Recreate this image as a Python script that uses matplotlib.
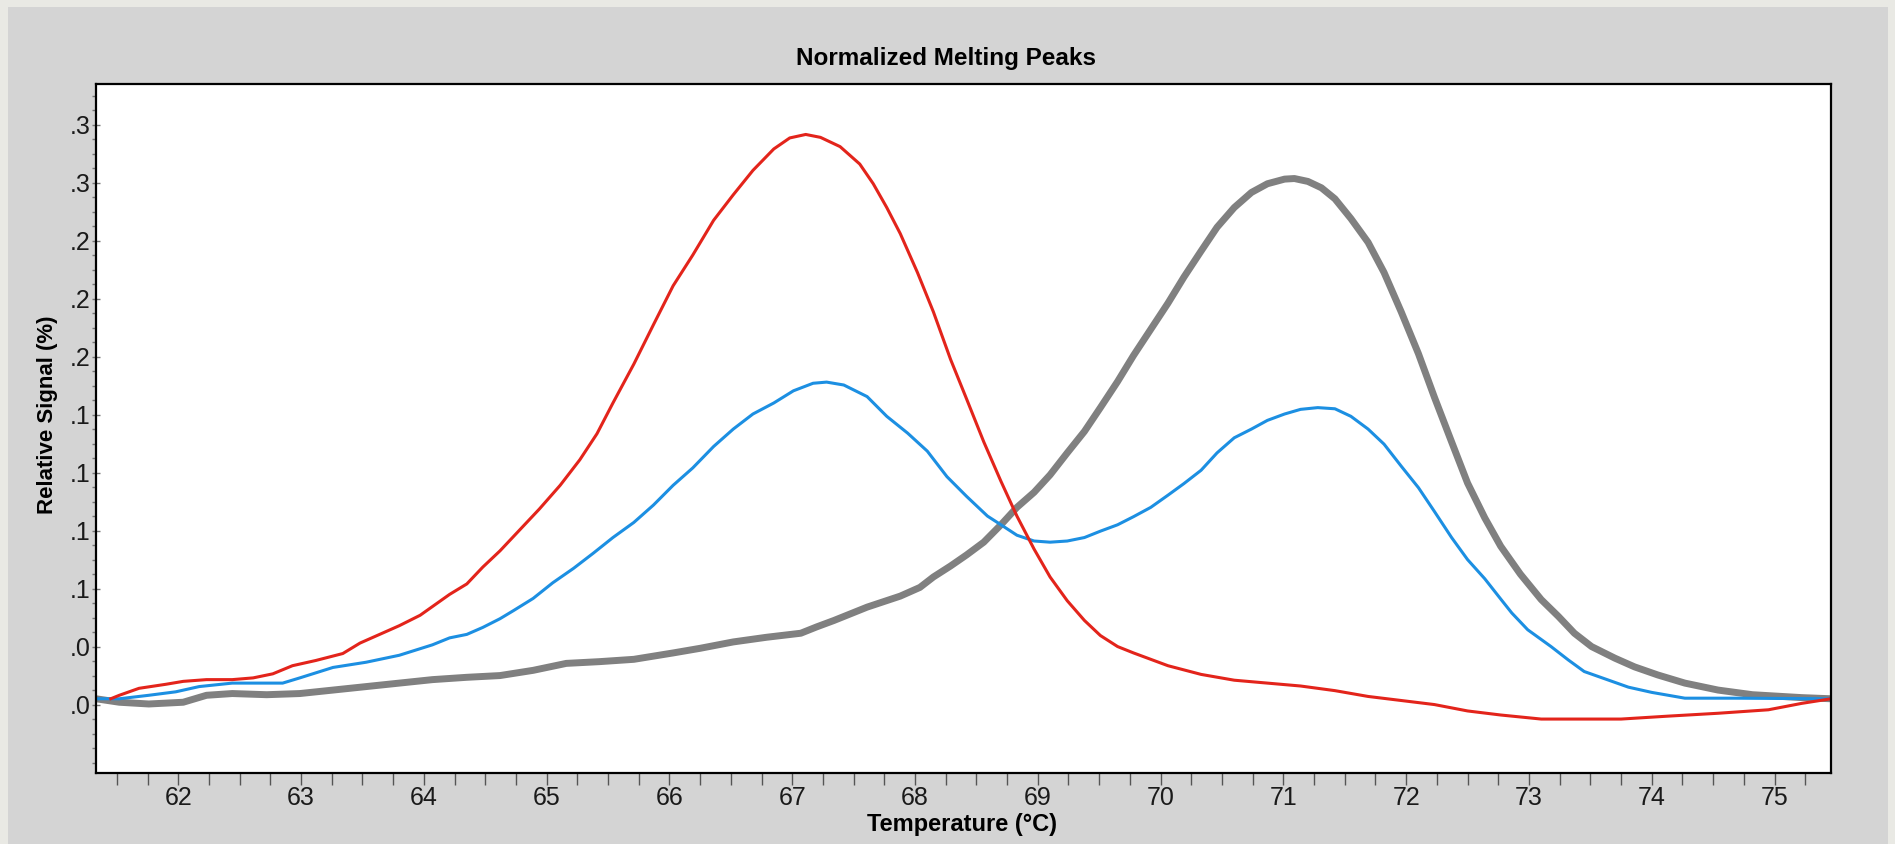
import numpy as np
import matplotlib
matplotlib.use("Agg")
import matplotlib.pyplot as plt
from matplotlib.patches import Rectangle
from matplotlib.ticker import MultipleLocator, AutoMinorLocator


# values (y in tick units, tick 0 = bottom ".0")
red_x = [61.45, 61.52, 61.68, 61.90, 62.04, 62.23, 62.44, 62.61, 62.77, 62.93,
         63.12, 63.34, 63.48, 63.64, 63.80, 63.97, 64.07, 64.21, 64.35, 64.48,
         64.62, 64.78, 64.94, 65.11, 65.27, 65.41, 65.54, 65.71, 65.87, 66.03,
         66.19, 66.36, 66.52, 66.68, 66.85, 66.98, 67.11, 67.23, 67.39, 67.55,
         67.66, 67.77, 67.88, 68.02, 68.15, 68.29, 68.42, 68.56, 68.70, 68.83,
         68.97, 69.10, 69.24, 69.38, 69.51, 69.65, 69.78, 69.92, 70.06, 70.33,
         70.60, 70.87, 71.14, 71.42, 71.69, 71.96, 72.23, 72.50, 72.77, 73.10,
         73.75, 74.13, 74.54, 74.95, 75.22, 75.46]
red_y = [0.10, 0.16, 0.28, 0.35, 0.40, 0.43, 0.43, 0.46, 0.53, 0.67,
         0.76, 0.88, 1.06, 1.21, 1.36, 1.54, 1.69, 1.90, 2.08, 2.37,
         2.65, 3.01, 3.37, 3.78, 4.22, 4.67, 5.20, 5.87, 6.55, 7.22,
         7.75, 8.35, 8.79, 9.21, 9.58, 9.77, 9.83, 9.78, 9.62, 9.32,
         8.98, 8.57, 8.12, 7.45, 6.77, 5.95, 5.27, 4.53, 3.85, 3.25,
         2.68, 2.20, 1.79, 1.45, 1.19, 1.00, 0.89, 0.78, 0.67, 0.52,
         0.42, 0.37, 0.32, 0.24, 0.14, 0.07, 0.00, -0.11, -0.18, -0.25,
         -0.25, -0.20, -0.15, -0.09, 0.02, 0.10]

blue_x = [61.33, 61.52, 61.76, 61.98, 62.17, 62.44, 62.85, 62.99, 63.26, 63.53,
          63.80, 64.07, 64.21, 64.35, 64.48, 64.62, 64.73, 64.89, 65.05, 65.22,
          65.38, 65.54, 65.71, 65.87, 66.03, 66.19, 66.36, 66.52, 66.68, 66.85,
          67.01, 67.17, 67.28, 67.42, 67.61, 67.77, 67.94, 68.10, 68.26, 68.42,
          68.59, 68.70, 68.83, 68.97, 69.10, 69.24, 69.38, 69.51, 69.65, 69.78,
          69.92, 70.06, 70.19, 70.33, 70.46, 70.60, 70.74, 70.87, 71.01, 71.14,
          71.28, 71.42, 71.55, 71.69, 71.82, 71.96, 72.10, 72.23, 72.37, 72.50,
          72.64, 72.77, 72.86, 72.99, 73.18, 73.32, 73.45, 73.65, 73.81, 74.00,
          74.27, 74.68, 75.46]
blue_y = [0.10, 0.10, 0.16, 0.22, 0.31, 0.37, 0.37, 0.46, 0.64, 0.73,
          0.85, 1.03, 1.15, 1.21, 1.33, 1.48, 1.62, 1.83, 2.10, 2.35,
          2.61, 2.88, 3.14, 3.44, 3.78, 4.08, 4.45, 4.75, 5.01, 5.20,
          5.41, 5.54, 5.56, 5.51, 5.31, 4.97, 4.68, 4.37, 3.93, 3.59,
          3.25, 3.10, 2.92, 2.82, 2.80, 2.82, 2.88, 2.99, 3.10, 3.24,
          3.40, 3.61, 3.81, 4.04, 4.34, 4.60, 4.75, 4.90, 5.01, 5.09,
          5.12, 5.10, 4.97, 4.75, 4.49, 4.11, 3.74, 3.33, 2.88, 2.50,
          2.17, 1.82, 1.58, 1.29, 1.00, 0.77, 0.57, 0.42, 0.30, 0.21,
          0.11, 0.11, 0.10]

gray_x = [61.33, 61.52, 61.76, 62.04, 62.23, 62.44, 62.72, 62.99, 63.26, 63.53,
          63.80, 64.07, 64.35, 64.62, 64.89, 65.16, 65.43, 65.71, 66.03, 66.25,
          66.52, 66.79, 67.07, 67.20, 67.34, 67.61, 67.88, 68.04, 68.15, 68.29,
          68.42, 68.56, 68.70, 68.83, 68.97, 69.10, 69.24, 69.38, 69.51, 69.65,
          69.78, 69.92, 70.06, 70.19, 70.33, 70.46, 70.60, 70.74, 70.87, 71.01,
          71.09, 71.20, 71.31, 71.42, 71.55, 71.69, 71.82, 71.96, 72.10, 72.23,
          72.37, 72.50, 72.64, 72.77, 72.93, 73.10, 73.24, 73.37, 73.51, 73.70,
          73.86, 74.05, 74.27, 74.54, 74.82, 75.22, 75.46]
gray_y = [0.10, 0.04, 0.01, 0.04, 0.16, 0.19, 0.17, 0.19, 0.25, 0.31,
          0.37, 0.43, 0.47, 0.50, 0.59, 0.71, 0.74, 0.78, 0.89, 0.97,
          1.08, 1.16, 1.23, 1.34, 1.45, 1.68, 1.87, 2.02, 2.20, 2.39,
          2.58, 2.80, 3.10, 3.40, 3.66, 3.96, 4.34, 4.71, 5.12, 5.57,
          6.02, 6.47, 6.92, 7.37, 7.82, 8.23, 8.57, 8.83, 8.98, 9.06,
          9.07, 9.02, 8.91, 8.72, 8.38, 7.97, 7.45, 6.77, 6.05, 5.30,
          4.53, 3.82, 3.22, 2.73, 2.25, 1.81, 1.52, 1.23, 1.00, 0.80,
          0.65, 0.51, 0.37, 0.25, 0.17, 0.12, 0.10]

y_ticks = list(range(11))
y_labels = [".0", ".0", ".1", ".1", ".1", ".1", ".2", ".2", ".2", ".3", ".3"]
x_ticks = list(range(62, 76))


W, H = 1895, 844
fig = plt.figure(figsize=(W / 100, H / 100), dpi=100, facecolor="#e9e9e4")

# grey instrument panel, kept behind the axes
fig.patches.append(Rectangle((8 / W, 0), (1888 - 8) / W, (H - 7) / H,
                             transform=fig.transFigure, facecolor="#d4d4d4",
                             edgecolor="none", zorder=-10))

left, right, top, bottom = 96, 1831, 84, 773
ax = fig.add_axes([left / W, 1 - bottom / H, (right - left) / W, (bottom - top) / H])
ax.set_zorder(1)
ax.set_facecolor("white")

ax.plot(gray_x, gray_y, color="#808080", lw=5.0, solid_capstyle="butt")
ax.plot(blue_x, blue_y, color="#1c8fe2", lw=2.2)
ax.plot(red_x, red_y, color="#e3241b", lw=2.2)

ax.set_xlim(61.33, 75.46)
ax.set_ylim(-1.18, 10.70)

ax.set_xticks(x_ticks)
ax.xaxis.set_minor_locator(MultipleLocator(0.25))
ax.set_yticks(y_ticks)
ax.set_yticklabels(y_labels)
ax.yaxis.set_minor_locator(AutoMinorLocator(4))

font = ["Liberation Sans", "DejaVu Sans"]
ax.tick_params(axis="x", which="both", direction="out", length=8.5, width=1,
               color="#555555", pad=1, labelsize=18, labelcolor="#1a1a1a")
ax.tick_params(axis="y", which="major", direction="inout", length=6, width=1,
               color="#777777", pad=1, labelsize=18, labelcolor="#1a1a1a")
ax.tick_params(axis="y", which="minor", direction="out", length=3.2, width=1,
               color="#777777")
for lab in ax.get_xticklabels() + ax.get_yticklabels():
    lab.set_family(font)

for s in ax.spines.values():
    s.set_linewidth(1.6)
    s.set_color("black")

ax.set_xlabel("Temperature (°C)", family=font, fontsize=17, fontweight="bold")
ax.xaxis.set_label_coords(0.499, -0.058)
ax.set_ylabel("Relative Signal (%)", family=font, fontsize=16, fontweight="bold")
ax.yaxis.set_label_coords(-0.022, 0.52)

ax.set_title("Normalized Melting Peaks", family=font, fontsize=17.5,
             fontweight="bold", x=0.49, y=1.028, pad=0)

fig.savefig("out.png", dpi=100, facecolor=fig.get_facecolor())
